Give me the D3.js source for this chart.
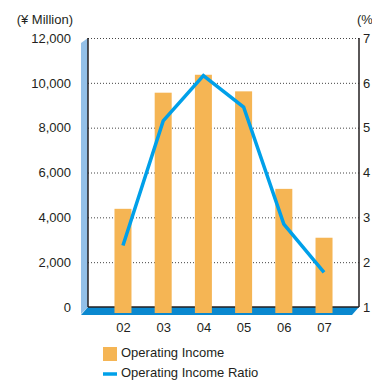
<!DOCTYPE html>
<html>
<head>
<meta charset="utf-8">
<script src="https://cdn.jsdelivr.net/npm/d3@7"></script>
<style>
  body { margin: 0; background: #fff; }
  text { font-family: "Liberation Sans", Arial, sans-serif; fill: #231f20; }
</style>
</head>
<body>
<div id="chart"></div>
<script>
const years = ["02", "03", "04", "05", "06", "07"];
const operatingIncome = [4380, 9560, 10360, 9620, 5270, 3090];
const incomeRatio = [2.37, 5.15, 6.16, 5.46, 2.85, 1.77];
const leftTicks = [0, 2000, 4000, 6000, 8000, 10000, 12000];
const rightTicks = [1, 2, 3, 4, 5, 6, 7];

const width = 372, height = 381;
const plotLeft = 88, plotRight = 359, plotTop = 38, plotBase = 307;
const depth = 7;
const barColor = "#f5b554";
const lineColor = "#00a0e9";

const svg = d3.select("#chart").append("svg")
    .attr("width", width)
    .attr("height", height);

const x = d3.scalePoint().domain(years).range([plotLeft, plotRight]).padding(0.87);
const y = d3.scaleLinear().domain([0, 12000]).range([plotBase, plotTop]);
const y2 = d3.scaleLinear().domain([1, 7]).range([plotBase, plotTop]);

// wall and floor
svg.append("path")
    .attr("d", `M${plotLeft - depth},${plotTop + 5} L${plotLeft},${plotTop} L${plotLeft},${plotBase} L${plotLeft - depth},${plotBase + depth} Z`)
    .attr("fill", "#93c0e8");
svg.append("path")
    .attr("d", `M${plotLeft},${plotBase} L${plotRight},${plotBase} L${plotRight - depth},${plotBase + depth + 1} L${plotLeft - depth},${plotBase + depth + 1} Z`)
    .attr("fill", "#0a88cf");

// grid
svg.append("g")
    .attr("transform", `translate(${plotLeft},0)`)
    .call(d3.axisLeft(y).tickValues(leftTicks.slice(1)).tickSize(-(plotRight - plotLeft)).tickFormat(""))
    .call(g => g.select(".domain").remove())
    .call(g => g.selectAll("line")
        .attr("stroke", "#444")
        .attr("stroke-dasharray", "1,2"));

// axis lines
svg.append("line").attr("x1", plotLeft).attr("x2", plotLeft).attr("y1", plotTop).attr("y2", plotBase)
    .attr("stroke", "#231f20").attr("stroke-width", 1.5);
svg.append("line").attr("x1", plotRight).attr("x2", plotRight).attr("y1", plotTop).attr("y2", plotBase)
    .attr("stroke", "#231f20").attr("stroke-width", 1.5);
svg.append("line").attr("x1", plotLeft).attr("x2", plotRight).attr("y1", plotBase).attr("y2", plotBase)
    .attr("stroke", "#231f20").attr("stroke-width", 1.5);

// bars
const barW = 17;
svg.append("g").selectAll("rect")
    .data(operatingIncome)
    .join("rect")
    .attr("x", (d, i) => x(years[i]) - barW / 2)
    .attr("y", d => y(d))
    .attr("width", barW)
    .attr("height", d => plotBase + 6 - y(d))
    .attr("fill", barColor);

// ratio line
const line = d3.line()
    .x((d, i) => x(years[i]))
    .y(d => y2(d));
svg.append("path")
    .datum(incomeRatio)
    .attr("d", line)
    .attr("fill", "none")
    .attr("stroke", lineColor)
    .attr("stroke-width", 3.5);

// axis labels
svg.append("g")
    .attr("transform", `translate(${plotLeft},0)`)
    .call(d3.axisLeft(y).tickValues(leftTicks).tickSize(0).tickPadding(17).tickFormat(d3.format(",")))
    .call(g => g.select(".domain").remove())
    .call(g => g.selectAll("text").style("font-size", "13px").attr("fill", "#231f20"));

svg.append("g")
    .attr("transform", `translate(${plotRight},0)`)
    .call(d3.axisRight(y2).tickValues(rightTicks).tickSize(0).tickPadding(4).tickFormat(d3.format("d")))
    .call(g => g.select(".domain").remove())
    .call(g => g.selectAll("text").style("font-size", "13px").attr("fill", "#231f20"));

svg.append("g")
    .attr("transform", `translate(0,${plotBase})`)
    .call(d3.axisBottom(x).tickSize(0).tickPadding(15.5))
    .call(g => g.select(".domain").remove())
    .call(g => g.selectAll("text").style("font-size", "13px").attr("fill", "#231f20"));

svg.append("text").attr("x", 73).attr("y", 24).attr("text-anchor", "end")
    .style("font-size", "13px").text("(¥ Million)");
svg.append("text").attr("x", 357).attr("y", 24)
    .style("font-size", "13px").text("(%)");

// legend
const legend = svg.append("g");
legend.append("rect").attr("x", 103).attr("y", 347).attr("width", 14).attr("height", 14).attr("fill", barColor);
legend.append("text").attr("x", 121).attr("y", 356.5).style("font-size", "13px").text("Operating Income");
legend.append("line").attr("x1", 103).attr("x2", 117).attr("y1", 374).attr("y2", 374)
    .attr("stroke", lineColor).attr("stroke-width", 3.5);
legend.append("text").attr("x", 121).attr("y", 376.5).style("font-size", "13px").text("Operating Income Ratio");
</script>
</body>
</html>
